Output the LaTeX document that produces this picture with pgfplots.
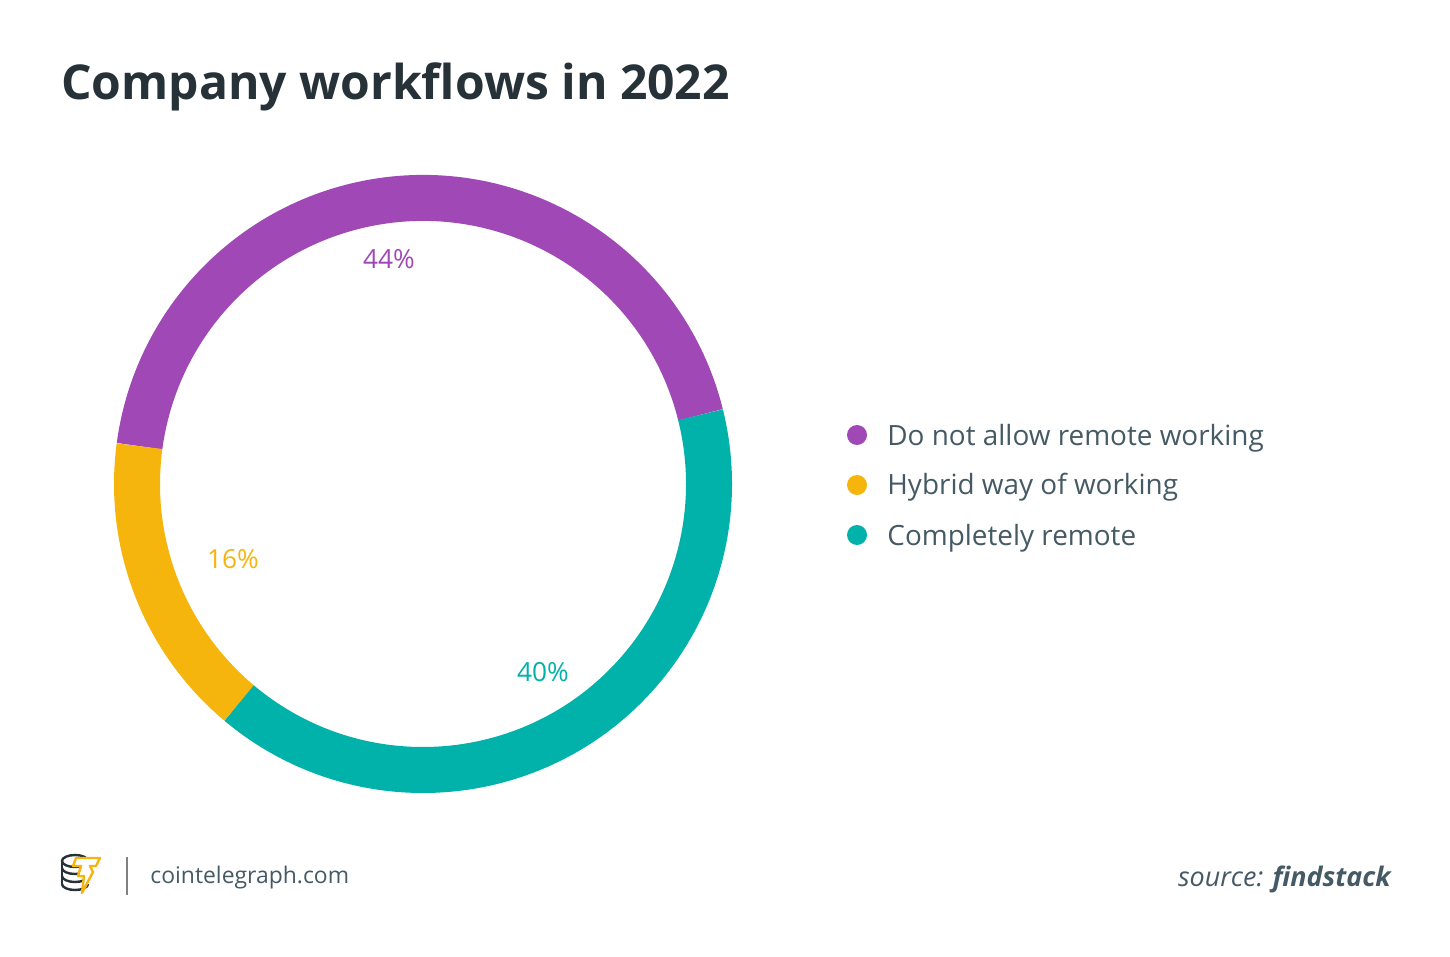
\documentclass[border=0pt]{standalone}
\usepackage{fontspec}
\setmainfont{Open Sans}
\usepackage{pgfplots}
\pgfplotsset{compat=1.18}
\usepackage{pgfplotstable}
\definecolor{cpurple}{HTML}{A048B6}
\definecolor{cyellow}{HTML}{F5B50C}
\definecolor{cteal}{HTML}{00B2A9}
\definecolor{ctitle}{HTML}{263238}
\definecolor{ctext}{HTML}{455A64}
\definecolor{cgray}{HTML}{808080}
\pgfplotstableread{
label value
A 44
B 16
C 40
}\shares
\begin{document}
\begin{tikzpicture}[x=0.5bp,y=0.5bp]
\fill[white] (0,0) rectangle (1450,956);
% title
\node[anchor=base west, font=\fontsize{24.1}{28}\selectfont\bfseries, text=ctitle, inner sep=0] at (61,856) {Company workflows in 2022};
% donut
\pgfplotstablegetelem{0}{value}\of\shares \let\vA\pgfplotsretval
\pgfplotstablegetelem{1}{value}\of\shares \let\vB\pgfplotsretval
\pgfplotstablegetelem{2}{value}\of\shares \let\vC\pgfplotsretval
\pgfmathsetmacro\aA{14}
\pgfmathsetmacro\aB{\aA+3.6*\vA}
\pgfmathsetmacro\aC{\aB+3.6*\vB}
\pgfmathsetmacro\aD{\aC+3.6*\vC}
\begin{axis}[at={(423,472)}, anchor=center, width=309bp, height=309bp,
  scale only axis, xmin=-309, xmax=309, ymin=-309, ymax=309,
  hide axis, clip=false]
 \draw[cpurple, line width=23bp] (axis cs:0,0) ++(\aA:143bp) arc[start angle=\aA, end angle=\aB, radius=143bp];
 \draw[cyellow, line width=23bp] (axis cs:0,0) ++(\aB:143bp) arc[start angle=\aB, end angle=\aC, radius=143bp];
 \draw[cteal, line width=23bp] (axis cs:0,0) ++(\aC:143bp) arc[start angle=\aC, end angle=\aD, radius=143bp];
 \node[text=cpurple, font=\fontsize{13.2}{15}\selectfont] at (axis cs:-34,225) {\vA\%};
 \node[text=cyellow, font=\fontsize{13.2}{15}\selectfont] at (axis cs:-190,-75) {\vB\%};
 \node[text=cteal, font=\fontsize{13.2}{15}\selectfont] at (axis cs:120,-188) {\vC\%};
\end{axis}
% legend
\fill[cpurple] (857,521) circle[radius=5bp];
\fill[cyellow] (857,471) circle[radius=5bp];
\fill[cteal] (857,421) circle[radius=5bp];
\node[anchor=base west, inner sep=0, text=ctext, font=\fontsize{14}{16}\selectfont] at (887,511) {Do not allow remote working};
\node[anchor=base west, inner sep=0, text=ctext, font=\fontsize{14}{16}\selectfont] at (887,461) {Hybrid way of working};
\node[anchor=base west, inner sep=0, text=ctext, font=\fontsize{14}{16}\selectfont] at (887,411) {Completely remote};
% footer
\draw[cgray, line width=1bp] (127,99) -- (127,61);
\node[anchor=base west, inner sep=0, text=ctext, font=\fontsize{11.5}{14}\selectfont] at (150,73) {cointelegraph.com};
\node[anchor=base east, inner sep=0, text=ctext, font=\fontsize{13.5}{16}\selectfont] at (1391,70) {\itshape source: \bfseries findstack};
% logo
\begin{scope}[line width=1.2bp, draw=ctitle]
 \foreach \yy in {72,80,88} {\draw (62,\yy) arc[start angle=180,end angle=360,x radius=6.5bp,y radius=3bp];}
 \draw (75,95) ellipse[x radius=6.5bp, y radius=3bp];
 \draw (62,95) -- (62,72);
\end{scope}
\draw[cyellow, line width=1.2bp, fill=white, line join=round] (76,98) -- (100,98) -- (96,90) -- (90,90) -- (93,84) -- (82,63) -- (84,80) -- (78,80) -- (81,90) -- (73,90) -- cycle;
\end{tikzpicture}
\end{document}
